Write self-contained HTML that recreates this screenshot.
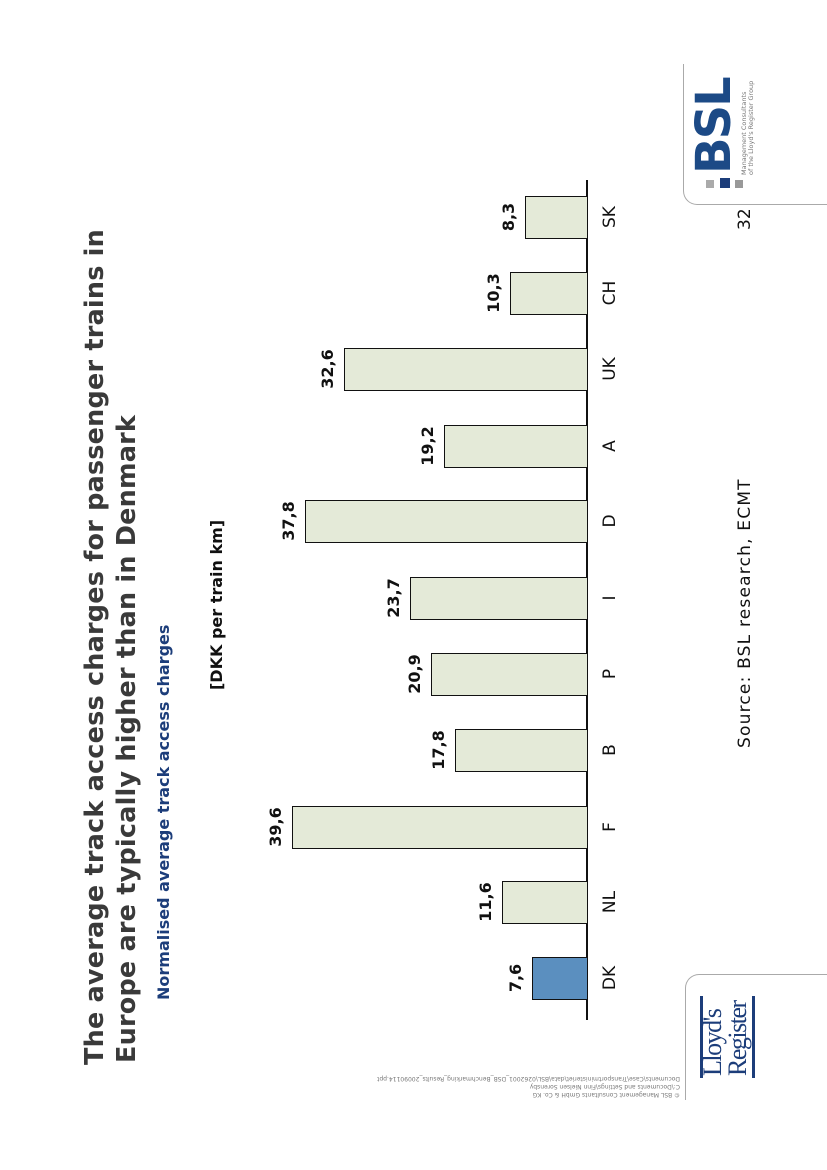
<!DOCTYPE html>
<html><head><meta charset="utf-8"><style>
html,body{margin:0;padding:0;background:#fff;}
body{width:827px;height:1170px;position:relative;overflow:hidden;font-family:"DejaVu Sans","Liberation Sans",sans-serif;}
#L{position:absolute;left:0;top:0;width:1170px;height:827px;transform-origin:0 0;transform:translate(0,1170px) rotate(-90deg);}
.a{position:absolute;white-space:nowrap;}
.bar{position:absolute;background:#e4ead8;border:1.5px solid #111;box-sizing:border-box;width:43px;}
.v{position:absolute;font-weight:bold;font-size:16px;width:60px;text-align:center;color:#111;}
.c{position:absolute;font-size:17px;width:60px;text-align:center;top:600px;color:#111;}
</style></head><body>
<div id="L">
<div class="a" style="left:105px;top:80px;font-size:25.5px;font-weight:bold;color:#3a3a3a;letter-spacing:0.2px">The average track access charges for passenger trains in</div>
<div class="a" style="left:107px;top:112px;font-size:25.5px;font-weight:bold;color:#3a3a3a;letter-spacing:0.2px">Europe are typically higher than in Denmark</div>
<div class="a" style="left:170px;top:154px;font-size:16px;font-weight:bold;color:#1c3d7a">Normalised average track access charges</div>
<div class="a" style="left:480px;top:207px;font-size:16px;font-weight:bold;color:#111">[DKK per train km]</div>
<div class="a" style="left:150px;top:586px;width:840px;height:1.5px;background:#111"></div>

<div class="bar" style="left:170px;top:532px;height:56px;background:#5b8fbf"></div>
<div class="bar" style="left:246px;top:502px;height:86px"></div>
<div class="bar" style="left:321px;top:292px;height:296px"></div>
<div class="bar" style="left:398px;top:455px;height:133px"></div>
<div class="bar" style="left:474px;top:431px;height:157px"></div>
<div class="bar" style="left:550px;top:410px;height:178px"></div>
<div class="bar" style="left:627px;top:305px;height:283px"></div>
<div class="bar" style="left:702px;top:444px;height:144px"></div>
<div class="bar" style="left:779px;top:344px;height:244px"></div>
<div class="bar" style="left:855px;top:510px;height:78px"></div>
<div class="bar" style="left:931px;top:525px;height:63px"></div>

<div class="v" style="left:162px;top:506px">7,6</div>
<div class="v" style="left:238px;top:476px">11,6</div>
<div class="v" style="left:313px;top:266px">39,6</div>
<div class="v" style="left:390px;top:429px">17,8</div>
<div class="v" style="left:466px;top:405px">20,9</div>
<div class="v" style="left:542px;top:384px">23,7</div>
<div class="v" style="left:619px;top:279px">37,8</div>
<div class="v" style="left:694px;top:418px">19,2</div>
<div class="v" style="left:771px;top:318px">32,6</div>
<div class="v" style="left:847px;top:484px">10,3</div>
<div class="v" style="left:923px;top:499px">8,3</div>

<div class="c" style="left:162px">DK</div>
<div class="c" style="left:238px">NL</div>
<div class="c" style="left:313px">F</div>
<div class="c" style="left:390px">B</div>
<div class="c" style="left:466px">P</div>
<div class="c" style="left:542px">I</div>
<div class="c" style="left:619px">D</div>
<div class="c" style="left:694px">A</div>
<div class="c" style="left:771px">UK</div>
<div class="c" style="left:847px">CH</div>
<div class="c" style="left:923px">SK</div>

<div class="a" style="left:422px;top:735px;font-size:17px;color:#111;letter-spacing:1.2px">Source: BSL research, ECMT</div>
<div class="a" style="left:940px;top:735px;font-size:17px;color:#111">32</div>

<div class="a" style="left:965px;top:683px;width:140px;height:150px;border-left:1px solid #aaa;border-top:1px solid #aaa;border-top-left-radius:14px"></div>
<div class="a" style="left:982px;top:720px;width:10px;height:10px;background:#1c3d7a"></div>
<div class="a" style="left:982px;top:735px;width:8px;height:8px;background:#999"></div>
<div class="a" style="left:982px;top:706px;width:8px;height:8px;background:#aaa"></div>
<div class="a" style="left:996px;top:686px;font-size:48px;font-weight:bold;color:#1c4a86;letter-spacing:-2px">BSL</div>
<div class="a" style="left:995px;top:741px;font-size:6.5px;color:#777;line-height:7px">Management Consultants<br>of the Lloyd's Register Group</div>

<div class="a" style="left:70px;top:685px;width:125px;height:150px;border-right:1px solid #aaa;border-top:1px solid #aaa;border-top-right-radius:14px"></div>
<div class="a" style="left:92px;top:700px;width:82px;height:3px;background:#1c3d7a"></div>
<div class="a" style="left:92px;top:752px;width:82px;height:3px;background:#1c3d7a"></div>
<div class="a" style="left:94px;top:700px;font-size:26px;color:#1c3d7a;line-height:25px;letter-spacing:-1.5px;font-family:'Liberation Serif',serif">Lloyd's<br>Register</div>
</div>
<div class="a" style="left:300px;top:1074px;width:380px;transform:rotate(180deg);font-size:6px;color:#777;line-height:8px">© BSL Management Consultants GmbH &amp; Co. KG<br>C:\Documents and Settings\Finn Nielsen Sorensby<br>Documents\Case\Transportministeriet\data\BSL\0262001_DSB_Benchmarking_Results_20090114.ppt</div>
</body></html>
